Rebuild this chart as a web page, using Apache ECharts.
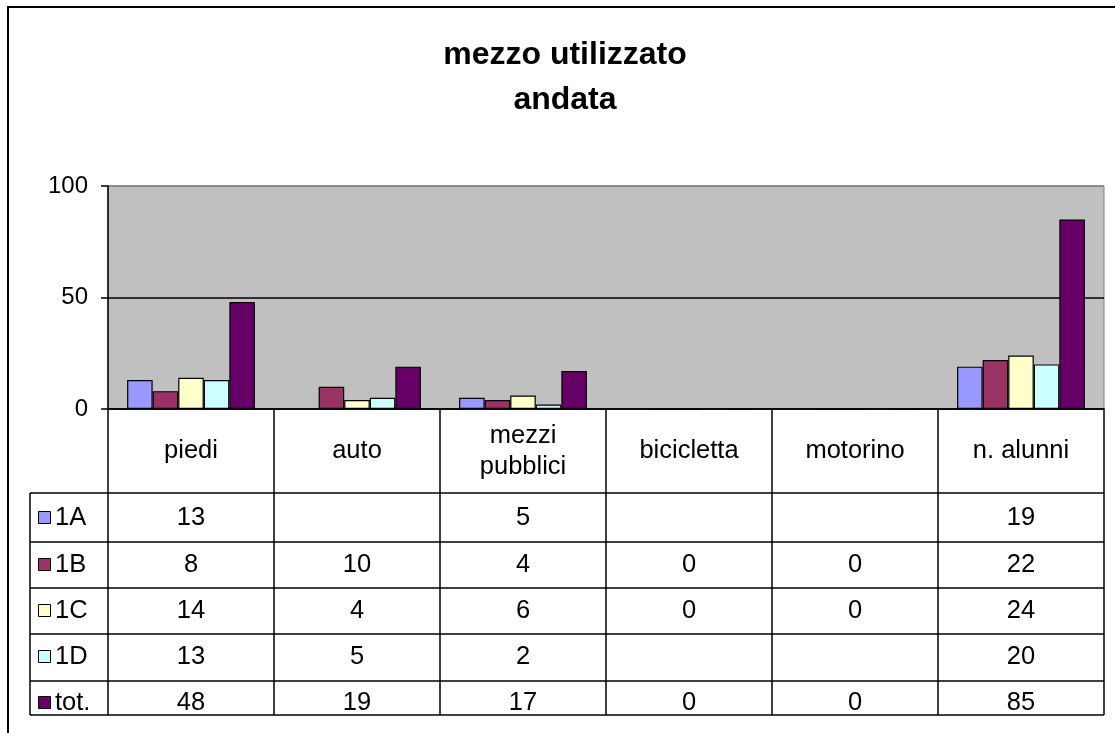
<!DOCTYPE html>
<html>
<head>
<meta charset="utf-8">
<script src="https://cdn.jsdelivr.net/npm/echarts@6/dist/echarts.min.js"></script>
<style>
html,body{margin:0;padding:0;background:#fff;}
#c{width:1115px;height:733px;}
</style>
</head>
<body>
<div id="c"></div>
<script>
// ---- data ----
const categories = ['piedi', 'auto', 'mezzi\npubblici', 'bicicletta', 'motorino', 'n. alunni'];
const seriesNames = ['1A', '1B', '1C', '1D', 'tot.'];
const v1A  = [13, null, 5, null, null, 19];
const v1B  = [8, 10, 4, 0, 0, 22];
const v1C  = [14, 4, 6, 0, 0, 24];
const v1D  = [13, 5, 2, null, null, 20];
const vTot = [48, 19, 17, 0, 0, 85];
const yMin = 0, yMax = 100, yStep = 50;
const titleLines = ['mezzo utilizzato', 'andata'];

// ---- styles ----
const seriesData = [v1A, v1B, v1C, v1D, vTot];
const colors = ['#9999FF', '#993366', '#FFFFCC', '#CCFFFF', '#660066'];
const FONT = '"Liberation Sans", Arial, sans-serif';

const chart = echarts.init(document.getElementById('c'), null, {renderer: 'canvas'});

const gridLeft = 108, gridRight = 11, gridTop = 186, gridBottom = 324;

chart.setOption({
  animation: false,
  backgroundColor: '#ffffff',
  grid: {
    left: gridLeft, right: gridRight, top: gridTop, bottom: gridBottom,
    show: true, backgroundColor: '#C0C0C0', borderColor: '#808080', borderWidth: 1
  },
  xAxis: {
    type: 'category',
    data: categories,
    axisLine: {show: true, lineStyle: {color: '#000', width: 1.5}},
    axisTick: {show: false},
    axisLabel: {show: false},
    splitLine: {show: false}
  },
  yAxis: {
    type: 'value',
    min: yMin, max: yMax, interval: yStep,
    axisLine: {show: true, lineStyle: {color: '#000', width: 1.5}},
    axisTick: {show: true, length: 7, inside: false, lineStyle: {color: '#000', width: 1.5}},
    axisLabel: {fontFamily: FONT, fontSize: 24, color: '#000', margin: 20},
    splitLine: {show: true, lineStyle: {color: ['#000', '#000', '#808080'], width: 1.5}}
  },
  series: seriesNames.map((n, i) => ({
    name: n,
    type: 'bar',
    data: seriesData[i],
    barGap: '0%',
    barCategoryGap: '23%',
    itemStyle: {color: colors[i], borderColor: '#000', borderWidth: 1.2}
  }))
});

// ---- data table & decorations ----
const nCat = categories.length;
const x0 = chart.convertToPixel({xAxisIndex: 0}, 0);
const x1 = chart.convertToPixel({xAxisIndex: 0}, 1);
const band = x1 - x0;
const tableLeft = x0 - band / 2;
const tableRight = tableLeft + band * nCat;
const yZero = chart.convertToPixel({yAxisIndex: 0}, 0);
const headerBottom = 493;
const rowLines = [493, 542, 588, 634, 681, 715];
const rowTextY = [517, 564, 610, 656, 702];
const keyLeft = 30;
const LW = 1.5;
const TFONT = '25.5px ' + FONT;

const g = [];
// outer chart frame (extends beyond canvas on the right and bottom)
g.push({type: 'rect', shape: {x: 8, y: 7, width: 1300, height: 900},
  style: {fill: null, stroke: '#000', lineWidth: 2}, z: 1});
// title
titleLines.forEach((t, i) => {
  g.push({type: 'text', x: 565, y: 55 + i * 45, style: {text: t, align: 'center', verticalAlign: 'middle',
    font: 'bold 32px ' + FONT, fill: '#000'}, z: 10});
});
// vertical column lines
for (let i = 0; i <= nCat; i++) {
  const x = tableLeft + band * i;
  g.push({type: 'line', shape: {x1: x, y1: yZero, x2: x, y2: rowLines[rowLines.length - 1]},
    style: {stroke: '#000', lineWidth: LW}, z: 10});
}
// key column left line
g.push({type: 'line', shape: {x1: keyLeft, y1: rowLines[0], x2: keyLeft, y2: rowLines[rowLines.length - 1]},
  style: {stroke: '#000', lineWidth: LW}, z: 10});
// horizontal row lines
rowLines.forEach(y => {
  g.push({type: 'line', shape: {x1: keyLeft, y1: y, x2: tableRight, y2: y},
    style: {stroke: '#000', lineWidth: LW}, z: 10});
});
// category headers
categories.forEach((c, i) => {
  const cx = tableLeft + band * (i + 0.5);
  g.push({type: 'text', x: cx, y: (yZero + headerBottom) / 2, style: {text: c, align: 'center', verticalAlign: 'middle',
    font: TFONT, lineHeight: 31, fill: '#000'}, z: 10});
});
// values + key
seriesNames.forEach((n, r) => {
  const ty = rowTextY[r];
  g.push({type: 'rect', shape: {x: 38.5, y: ty - 5.5, width: 12, height: 12},
    style: {fill: colors[r], stroke: '#000', lineWidth: 1}, z: 10});
  g.push({type: 'text', x: 55, y: ty + 1, style: {text: n, align: 'left', verticalAlign: 'middle',
    font: TFONT, fill: '#000'}, z: 10});
  seriesData[r].forEach((v, i) => {
    if (v === null) return;
    const cx = tableLeft + band * (i + 0.5);
    g.push({type: 'text', x: cx, y: ty + 1, style: {text: String(v), align: 'center', verticalAlign: 'middle',
      font: TFONT, fill: '#000'}, z: 10});
  });
});
chart.setOption({graphic: g});
</script>
</body>
</html>
